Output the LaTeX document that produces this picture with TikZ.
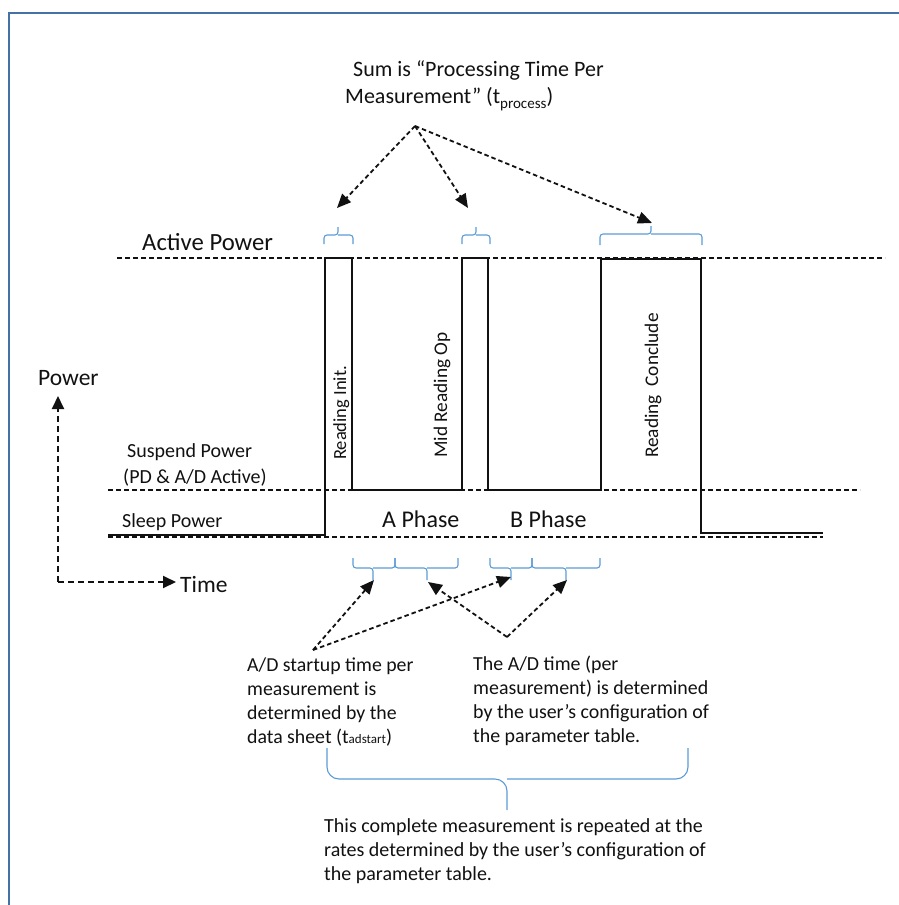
\documentclass[tikz,border=0pt]{standalone}
\usepackage{fontspec}
\setmainfont{Carlito}
\usetikzlibrary{arrows.meta}
\newcommand\myfs[2]{\fontsize{#1}{#2}\selectfont}
\definecolor{framec}{HTML}{4472A4}
\definecolor{bracec}{HTML}{5B9BD5}
\definecolor{inkc}{HTML}{111111}
\begin{document}
\begin{tikzpicture}[x=1pt,y=-1pt,
  level/.style={inkc, line width=1.5pt, dash pattern=on 5pt off 3pt},
  wave/.style={inkc, line width=2pt, line join=miter},
  pointer/.style={inkc, line width=1.8pt, dash pattern=on 4.5pt off 3pt, -{Triangle[length=14pt,width=12pt]}},
  axis/.style={inkc, line width=2pt, dash pattern=on 6pt off 4pt, -{Triangle[length=13pt,width=12pt]}},
  bracel/.style={bracec, line width=1.1pt, rounded corners=3pt},
  bigbrace/.style={bracec, line width=1.1pt, rounded corners=12pt},
  lbl/.style={inner sep=0pt, anchor=base west, text=inkc},
  vlbl/.style={inner sep=0pt, anchor=base west, rotate=90, text=inkc, font=\myfs{19.3}{23}},
]
\useasboundingbox (0,0) rectangle (899,905);
% frame
\draw[framec, line width=2pt] (9,905) -- (9,13) -- (899,13);

% level lines
\draw[level] (117,258) -- (885,258);
\draw[level] (108,490) -- (860,490);
\draw[level] (108,537) -- (823,537);

% waveform
\draw[wave] (108,535) -- (325,535) -- (325,258) -- (352,258) -- (352,490)
  -- (462,490) -- (462,258) -- (488,258) -- (488,490)
  -- (601,490) -- (601,259) -- (701,259) -- (701,533) -- (823,533);

% pulse labels
\node[vlbl, font=\myfs{18.5}{23}] (rinit) at (346,460) {Reading Init.};
\node[vlbl] (mid) at (447,458) {Mid Reading Op};
\node[vlbl] (rconc) at (658,458) {Reading~~Conclude};

% level labels
\node[lbl, font=\myfs{24.7}{28}] (active) at (142,250) {Active Power};
\node[lbl, font=\myfs{20}{26}, align=left] (suspend) at (123,483) {\hspace*{4pt}Suspend Power\\(PD \& A/D Active)};
\node[lbl, font=\myfs{20}{24}] (sleep) at (122,527) {Sleep Power};
\node[lbl, font=\myfs{24}{28}] (aphase) at (382,527) {A Phase};
\node[lbl, font=\myfs{24}{28}] (bphase) at (510,527) {B Phase};

% axes
\coordinate (orig) at (58,582);
\coordinate (ytip) at (58,396);
\coordinate (xtip) at (176,582);
\draw[axis] (orig) -- (ytip);
\draw[axis] (orig) -- (xtip);
\node[lbl, font=\myfs{23.5}{28}] (power) at (38,385) {Power};
\node[lbl, font=\myfs{23.5}{28}] (time) at (180,592) {Time};

% title
\node[lbl, font=\myfs{22}{27}, align=left] (sum) at (345,103)
  {\hspace*{8pt}Sum is “Processing Time Per\\Measurement” (t\raisebox{-5pt}{\myfs{15}{15}process})};
\coordinate (sumsrc) at (415,126);
\coordinate (tp1) at (337,208);
\coordinate (tp2) at (468,208);
\coordinate (tp3) at (652,223);
\draw[pointer] (sumsrc) -- (tp1);
\draw[pointer] (sumsrc) -- (tp2);
\draw[pointer] (sumsrc) -- (tp3);

% top braces
\draw[bracel] (324,244) |- (338,235) -- (338,227);
\draw[bracel] (353,244) |- (338,235);
\draw[bracel] (462,244) |- (476,235) -- (476,227);
\draw[bracel] (490,244) |- (476,235);
\draw[bracel] (600,245) |- (651,234) -- (651,226);
\draw[bracel] (702,245) |- (651,234);

% bottom braces
\draw[bracel] (353,558) |- (373,568) -- (373,580);
\draw[bracel] (395,558) |- (373,568);
\draw[bracel] (395,558) |- (427,568) -- (427,580);
\draw[bracel] (458,558) |- (427,568);
\draw[bracel] (490,558) |- (511,568) -- (511,580);
\draw[bracel] (532,558) |- (511,568);
\draw[bracel] (532,558) |- (566,568) -- (566,580);
\draw[bracel] (600,558) |- (566,568);

% bottom texts
\node[lbl, font=\myfs{19.8}{23.7}, align=left] (adstart) at (247,743)
  {A/D startup time per\\measurement is\\determined by the\\data sheet (t{\myfs{13}{13}adstart})};
\node[lbl, font=\myfs{19.9}{24}, align=left] (adtime) at (473,742)
  {The A/D time (per\\measurement) is determined\\by the user’s configuration of\\the parameter table.};

\coordinate (src1) at (313,650);
\coordinate (src2) at (507,637);
\coordinate (bp1) at (374,580);
\coordinate (bp2) at (511,577);
\coordinate (bp3) at (428,582);
\coordinate (bp4) at (567,580);
\draw[pointer] (src1) -- (bp1);
\draw[pointer] (src1) -- (bp2);
\draw[pointer] (src2) -- (bp3);
\draw[pointer] (src2) -- (bp4);

% big brace
\draw[bigbrace] (327,748) |- (507,779) -- (507,810);
\draw[bigbrace] (688,748) |- (507,779);

\node[lbl, font=\myfs{20}{24}, align=left] (repeat) at (324,880)
  {This complete measurement is repeated at the\\rates determined by the user’s configuration of\\the parameter table.};
\end{tikzpicture}
\end{document}
